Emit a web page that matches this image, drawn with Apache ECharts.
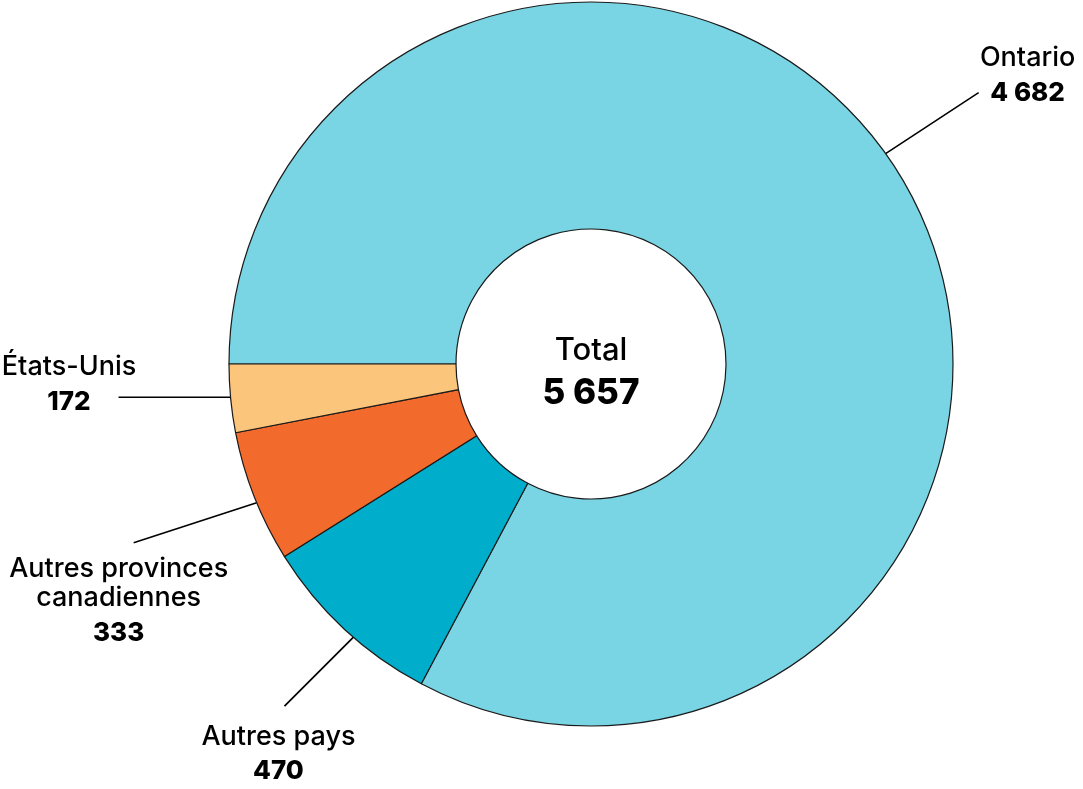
<!DOCTYPE html>
<html>
<head>
<meta charset="utf-8">
<script src="https://cdn.jsdelivr.net/npm/echarts@6/dist/echarts.min.js"></script>
<style>
html,body{margin:0;padding:0;background:#fff;}
#chart{width:1083px;height:789px;}
</style>
</head>
<body>
<div id="chart"></div>
<script>
// ---- Data ----
const categories = ['Ontario', 'Autres pays', 'Autres provinces\ncanadiennes', 'États-Unis'];
const values = [4682, 470, 333, 172];
const colors = ['#79D4E3', '#00ADCA', '#F26B2D', '#FBC57B'];
const totalLabel = 'Total';

// ---- Layout ----
const PIE_CENTER = [591, 364];
// shift of leader-line start along the ring (deg, clockwise +)
const startShift = [-4.5, -1.9, -1.0, 0.2];
// leader-line vector from start (px)
const lineVectors = [[93, -61], [-69, 69], [-123, 40], [-112, 0]];
// label block centre offset from line end (px)
const labelOffsets = [[49, -14], [-6, 51], [-15, 61], [-49.5, -9.5]];

const FONT = 'Inter, "Noto Sans", sans-serif';
const fmt = v => String(v).replace(/\B(?=(\d{3})+(?!\d))/g, ' ');
const total = values.reduce((a, b) => a + b, 0);

const chart = echarts.init(document.getElementById('chart'), null, {renderer: 'canvas'});

const data = categories.map((c, i) => ({
  name: c,
  value: values[i],
  itemStyle: {color: colors[i]}
}));

chart.setOption({
  animation: false,
  backgroundColor: '#ffffff',
  series: [{
    type: 'pie',
    center: PIE_CENTER,
    radius: [135, 362],
    startAngle: 180,
    clockwise: true,
    avoidLabelOverlap: false,
    data: data,
    itemStyle: {borderColor: '#1a1a1a', borderWidth: 1.2},
    label: {
      show: true,
      position: 'outside',
      formatter: p => p.name.split('\n').map(s => '{n|' + s + '}').join('\n') + '\n{v|' + fmt(p.value) + '}',
      rich: {
        n: {fontFamily: FONT, fontSize: 27, fontWeight: 500, lineHeight: 29, color: '#000', align: 'center'},
        v: {fontFamily: FONT, fontSize: 26, fontWeight: 800, lineHeight: 41, color: '#000', align: 'center'}
      }
    },
    labelLine: {show: true, length: 20, length2: 0, lineStyle: {color: '#000', width: 1.6}},
    labelLayout: function (params) {
      const i = params.dataIndex;
      const pts = params.labelLinePoints;
      if (!pts) return {};
      const p0 = pts[0];
      const t = startShift[i] * Math.PI / 180;
      const rx = p0[0] - PIE_CENTER[0], ry = p0[1] - PIE_CENTER[1];
      const s = [PIE_CENTER[0] + rx * Math.cos(t) - ry * Math.sin(t),
                 PIE_CENTER[1] + rx * Math.sin(t) + ry * Math.cos(t)];
      const e = [s[0] + lineVectors[i][0], s[1] + lineVectors[i][1]];
      return {
        x: e[0] + labelOffsets[i][0],
        y: e[1] + labelOffsets[i][1],
        align: 'center',
        verticalAlign: 'middle',
        labelLinePoints: [s, e]
      };
    }
  }],
  graphic: [{
    type: 'text',
    x: 591,
    y: 373,
    style: {
      text: '{t|' + totalLabel + '}\n{v|' + fmt(total) + '}',
      textAlign: 'center',
      textVerticalAlign: 'middle',
      rich: {
        t: {fontFamily: FONT, fontSize: 31, fontWeight: 500, lineHeight: 40, fill: '#000', align: 'center'},
        v: {fontFamily: FONT, fontSize: 35, fontWeight: 800, lineHeight: 44, fill: '#000', align: 'center'}
      }
    }
  }]
});
</script>
</body>
</html>
